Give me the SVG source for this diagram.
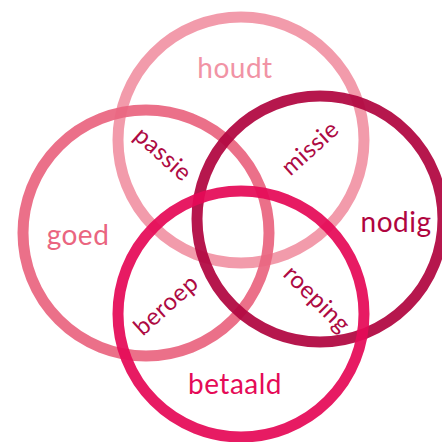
<svg xmlns="http://www.w3.org/2000/svg" width="442" height="442" viewBox="0 0 442 442">
<style>
.ring{fill:none;stroke-width:11;stroke-opacity:0.93}
.lbl{font-family:Lato,"Open Sans","DejaVu Sans",sans-serif;font-size:28px;text-anchor:middle;dominant-baseline:central;letter-spacing:0.5px}
.sub{font-family:Lato,"Open Sans","DejaVu Sans",sans-serif;font-size:24px;text-anchor:middle;dominant-baseline:central;fill:#AE0A43;letter-spacing:0.5px}
</style>
<rect width="442" height="442" fill="#FFFFFF"/>
<g id="houdt">
<circle class="ring" cx="241" cy="140" r="123" stroke="#F193A5"/>
<text class="lbl" x="235" y="67" fill="#F193A5">houdt</text>
</g>
<g id="goed">
<circle class="ring" cx="146" cy="233" r="123" stroke="#EA6580"/>
<text class="lbl" x="78" y="234" fill="#EA6580">goed</text>
</g>
<g id="nodig">
<circle class="ring" cx="320" cy="219" r="123" stroke="#B0053F"/>
<text class="lbl" x="396" y="221" fill="#B0053F">nodig</text>
</g>
<g id="betaald">
<circle class="ring" cx="241" cy="314" r="123" stroke="#E50A57"/>
<text class="lbl" x="235" y="383" fill="#E50A57">betaald</text>
</g>
<g id="passie"><text class="sub" transform="translate(164,153) rotate(42)">passie</text></g>
<g id="missie"><text class="sub" transform="translate(309,147) rotate(-42)">missie</text></g>
<g id="beroep"><text class="sub" transform="translate(165,304) rotate(-42)">beroep</text></g>
<g id="roeping"><text class="sub" transform="translate(318,298) rotate(45)">roeping</text></g>
<g id="connectors"></g>
</svg>
